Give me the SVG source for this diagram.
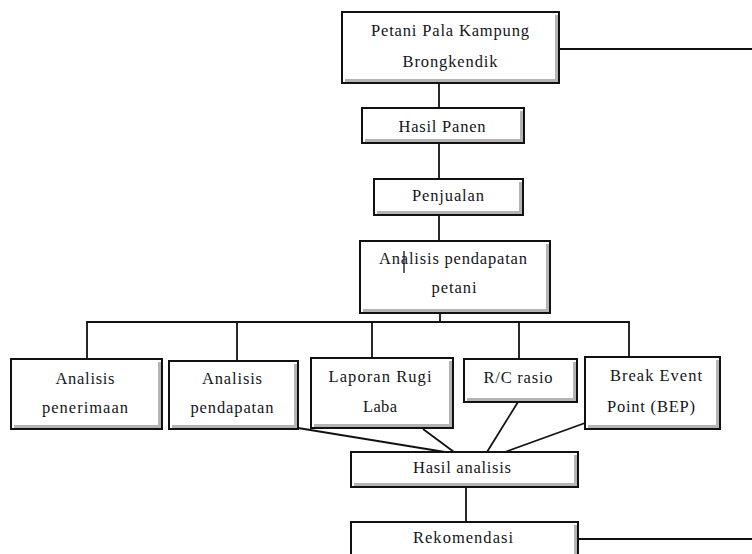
<svg xmlns="http://www.w3.org/2000/svg" width="752" height="554" viewBox="0 0 752 554">
<style>
.box{fill:#fff;stroke:#111;stroke-width:2}
.sh{fill:none;stroke:#b4b4b4;stroke-width:3}
.t{font-family:"Liberation Serif","Times New Roman",serif;font-size:16.5px;fill:#151520;text-anchor:middle}
.c{stroke:#111;stroke-width:1.8;fill:none}
</style>
<rect width="752" height="554" fill="#fff"/>
<g id="connectors">
<line class="c" x1="559" y1="49" x2="752" y2="49"/>
<line class="c" x1="439" y1="83" x2="439" y2="108"/>
<line class="c" x1="439" y1="143" x2="439" y2="179"/>
<line class="c" x1="439" y1="215" x2="439" y2="241"/>
<line class="c" x1="440" y1="313" x2="440" y2="322"/>
<polyline class="c" points="87,359 87,322 629,322 629,357"/>
<line class="c" x1="237" y1="322" x2="237" y2="361"/>
<line class="c" x1="372" y1="322" x2="372" y2="358"/>
<line class="c" x1="519" y1="322" x2="519" y2="359"/>
<line class="c" x1="298" y1="428" x2="445" y2="452"/>
<line class="c" x1="423" y1="429" x2="454" y2="452"/>
<line class="c" x1="518" y1="402" x2="487" y2="452"/>
<line class="c" x1="585" y1="423" x2="505" y2="452"/>
<line class="c" x1="466" y1="487" x2="466" y2="522"/>
<line class="c" x1="578" y1="539" x2="752" y2="539"/>
</g>
<g id="n1"><rect class="box" x="342" y="12" width="217" height="71"/><path class="sh" d="M556.5,15 V80.5 H345"/><text class="t" x="450" y="36" textLength="158" lengthAdjust="spacing">Petani Pala Kampung</text><text class="t" x="450" y="67" textLength="95" lengthAdjust="spacing">Brongkendik</text></g>
<g id="n2"><rect class="box" x="362" y="108" width="162" height="35"/><path class="sh" d="M521.5,111 V140.5 H365"/><text class="t" x="442" y="132" textLength="87" lengthAdjust="spacing">Hasil Panen</text></g>
<g id="n3"><rect class="box" x="374" y="179" width="149" height="36"/><path class="sh" d="M520.5,182 V212.5 H377"/><text class="t" x="448" y="201" textLength="72" lengthAdjust="spacing">Penjualan</text></g>
<g id="n4"><rect class="box" x="360" y="241" width="190" height="72"/><path class="sh" d="M547.5,244 V310.5 H363"/><text class="t" x="453" y="264" textLength="148" lengthAdjust="spacing">Analisis pendapatan</text><text class="t" x="454" y="293" textLength="45" lengthAdjust="spacing">petani</text><line x1="404" y1="251" x2="404" y2="273" stroke="#111" stroke-width="1.3"/></g>
<g id="n5"><rect class="box" x="11" y="359" width="151" height="70"/><path class="sh" d="M159.5,362 V426.5 H14"/><text class="t" x="85" y="384" textLength="59" lengthAdjust="spacing">Analisis</text><text class="t" x="85" y="413" textLength="86" lengthAdjust="spacing">penerimaan</text></g>
<g id="n6"><rect class="box" x="169" y="361" width="129" height="68"/><path class="sh" d="M295.5,364 V426.5 H172"/><text class="t" x="232" y="384" textLength="60" lengthAdjust="spacing">Analisis</text><text class="t" x="232" y="413" textLength="83" lengthAdjust="spacing">pendapatan</text></g>
<g id="n7"><rect class="box" x="311" y="358" width="142" height="70"/><path class="sh" d="M450.5,361 V425.5 H314"/><text class="t" x="380" y="382" textLength="103" lengthAdjust="spacing">Laporan Rugi</text><text class="t" x="380" y="412" textLength="34" lengthAdjust="spacing">Laba</text></g>
<g id="n8"><rect class="box" x="464" y="359" width="113" height="43"/><path class="sh" d="M574.5,362 V399.5 H467"/><text class="t" x="518" y="383" textLength="69" lengthAdjust="spacing">R/C rasio</text></g>
<g id="n9"><rect class="box" x="585" y="357" width="135" height="72"/><path class="sh" d="M717.5,360 V426.5 H588"/><text class="t" x="656" y="381" textLength="92" lengthAdjust="spacing">Break Event</text><text class="t" x="651" y="412" textLength="88" lengthAdjust="spacing">Point (BEP)</text></g>
<g id="n10"><rect class="box" x="351" y="452" width="227" height="35"/><path class="sh" d="M575.5,455 V484.5 H354"/><text class="t" x="462" y="473" textLength="98" lengthAdjust="spacing">Hasil analisis</text></g>
<g id="n11"><rect class="box" x="351" y="522" width="227" height="40"/><path class="sh" d="M575.5,525 V559 "/><text class="t" x="463" y="543" textLength="100" lengthAdjust="spacing">Rekomendasi</text></g>
</svg>
